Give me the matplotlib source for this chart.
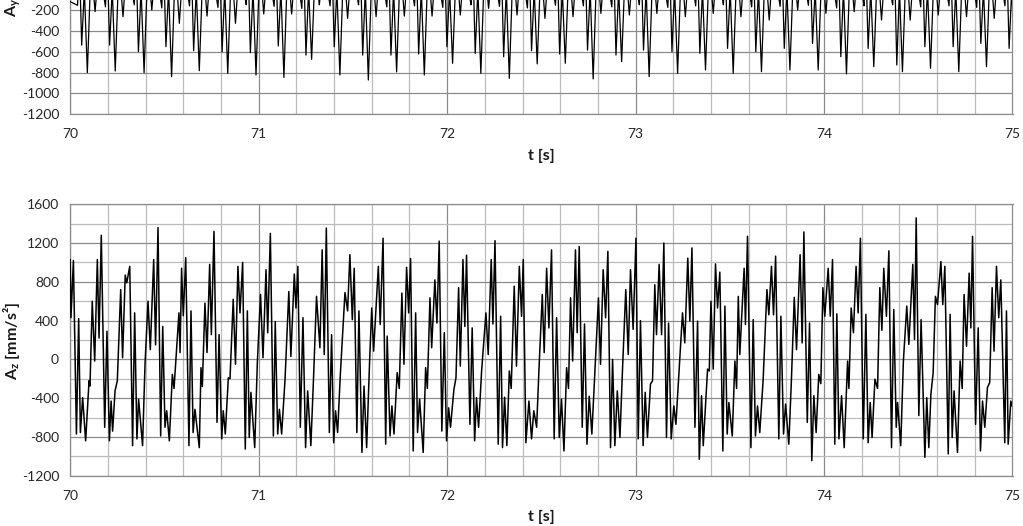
#---------------------------Librerias-------------------------------------------
import numpy as np
import matplotlib.pyplot as plt
from matplotlib.ticker import MultipleLocator
#------------------------------------------------------------------------------

plt.rcParams['font.family'] = ['Lato', 'DejaVu Sans']
plt.rcParams['axes.unicode_minus'] = False
plt.rcParams['mathtext.fontset'] = 'custom'
plt.rcParams['mathtext.rm'] = 'Lato'
plt.rcParams['mathtext.bf'] = 'Lato:bold'

#---------------------------Datos A_y (panel superior, recortado)---------------
ay_tb = [70.091, 70.239, 70.392, 70.538, 70.685, 70.836, 70.986, 71.134, 71.281, 71.431,
         71.582, 71.732, 71.879, 72.029, 72.179, 72.330, 72.478, 72.627, 72.775, 72.926,
         73.072, 73.223, 73.371, 73.518, 73.668, 73.819, 73.969, 74.119, 74.264, 74.416,
         74.565, 74.715, 74.862, 75.012]
ay_pre = [-155, -170, -150, -180, -160, -175, -150, -165, -185, -160,
          -150, -170, -160, -175, -150, -165, -180, -155, -160, -170,
          -150, -175, -160, -150, -170, -165, -155, -180, -160, -150,
          -170, -160, -175, -160]
ay_a = [-536, -536, -600, -552, -590, -600, -609, -545, -632, -552,
        -632, -632, -622, -552, -616, -648, -590, -622, -584, -632,
        -584, -600, -615, -568, -600, -568, -520, -648, -568, -727,
        -552, -552, -520, -568]
ay_b = [-801, -785, -801, -840, -782, -807, -823, -846, -673, -823,
        -871, -793, -823, -711, -807, -855, -717, -711, -861, -695,
        -839, -807, -775, -807, -791, -775, -775, -813, -743, -791,
        -759, -791, -743, -700]
ay_c = [-216, -264, -200, -328, -258, -328, -238, -238, -150, -280,
        -264, -258, -258, -248, -184, -248, -280, -264, -232, -248,
        -232, -264, -232, -264, -296, -200, -232, -216, -296, -296,
        -248, -264, -280, -250]
ay_dt = [-0.052, -0.042, -0.030, -0.016, 0.0, 0.020, 0.041, 0.062]  # forma del ciclo
ay_hi = 250   # crestas (fuera de la imagen)
ay_mid = 0
#------------------------------------------------------------------------------

#---------------------------Datos A_z (panel inferior)-------------------------
az_t = [70.000, 70.004, 70.017, 70.033, 70.045, 70.054, 70.066, 70.082, 70.100, 70.105,
        70.117, 70.130, 70.144, 70.153, 70.165, 70.183, 70.195, 70.208, 70.217, 70.225, 70.238, 70.250,
        70.268, 70.278, 70.292, 70.300, 70.316, 70.331, 70.342, 70.354, 70.363, 70.384, 70.397,
        70.413, 70.425, 70.443, 70.453, 70.466, 70.480, 70.491, 70.503, 70.512, 70.526, 70.542, 70.551,
        70.577, 70.583, 70.591, 70.600, 70.613, 70.630, 70.641, 70.652, 70.662, 70.685, 70.694, 70.701,
        70.715, 70.726, 70.740, 70.749, 70.763, 70.779, 70.790, 70.804, 70.812, 70.823, 70.839, 70.848,
        70.865, 70.877, 70.890, 70.901, 70.915, 70.929, 70.940, 70.950, 70.959, 70.979, 70.993,
        71.010, 71.023, 71.039, 71.048, 71.062, 71.078, 71.088, 71.101, 71.110, 71.122, 71.140,
        71.160, 71.171, 71.189, 71.198, 71.208, 71.221, 71.235, 71.249, 71.260, 71.277, 71.292,
        71.307, 71.325, 71.337, 71.348, 71.359, 71.375, 71.387, 71.398, 71.408, 71.419, 71.433,
        71.458, 71.472, 71.484, 71.497, 71.507, 71.521, 71.532, 71.548, 71.559, 71.573, 71.589,
        71.600, 71.610, 71.635, 71.645, 71.660, 71.674, 71.682, 71.697, 71.707, 71.718, 71.735, 71.746,
        71.760, 71.771, 71.785, 71.796, 71.806, 71.820, 71.833, 71.843, 71.854, 71.873, 71.886, 71.895,
        71.909, 71.918, 71.935, 71.946, 71.958, 71.972, 71.985, 71.997, 72.008, 72.018, 72.036, 72.047,
        72.061, 72.070, 72.084, 72.094, 72.103, 72.121, 72.133, 72.146, 72.156, 72.167, 72.183,
        72.206, 72.218, 72.234, 72.243, 72.254, 72.271, 72.284, 72.294, 72.305, 72.317, 72.330, 72.340,
        72.356, 72.368, 72.383, 72.395, 72.404, 72.418, 72.434, 72.448, 72.460, 72.475, 72.487,
        72.505, 72.515, 72.528, 72.540, 72.554, 72.568, 72.581, 72.595, 72.607, 72.620, 72.634, 72.644,
        72.655, 72.666, 72.681, 72.690, 72.701, 72.717, 72.729, 72.742, 72.754, 72.768, 72.784,
        72.803, 72.814, 72.828, 72.841, 72.853, 72.867, 72.878, 72.890, 72.903, 72.917, 72.931,
        72.948, 72.961, 72.973, 72.987, 73.002, 73.014, 73.026, 73.040, 73.051, 73.063, 73.079, 73.090,
        73.102, 73.111, 73.125, 73.138, 73.150, 73.164, 73.175, 73.189, 73.203, 73.214, 73.231,
        73.249, 73.261, 73.277, 73.288, 73.299, 73.315, 73.329, 73.338, 73.350, 73.359, 73.382, 73.391,
        73.400, 73.412, 73.424, 73.435, 73.447, 73.463, 73.474, 73.486, 73.495, 73.513, 73.527, 73.536,
        73.545, 73.553, 73.576, 73.583, 73.594, 73.612, 73.624, 73.636, 73.647, 73.659, 73.677,
        73.697, 73.707, 73.721, 73.732, 73.743, 73.760, 73.771, 73.785, 73.796, 73.813, 73.827,
        73.842, 73.854, 73.873, 73.884, 73.893, 73.911, 73.923, 73.935, 73.946, 73.958, 73.972, 73.983,
        73.994, 74.004, 74.022, 74.033, 74.045, 74.057, 74.068, 74.079, 74.093, 74.107, 74.125, 74.132,
        74.144, 74.156, 74.170, 74.181, 74.193, 74.208, 74.222, 74.234, 74.245, 74.255, 74.270, 74.284,
        74.296, 74.307, 74.317, 74.331, 74.344, 74.358, 74.370, 74.383, 74.390, 74.407, 74.421,
        74.439, 74.450, 74.471, 74.480, 74.489, 74.503, 74.515, 74.535, 74.545, 74.556, 74.567, 74.579,
        74.591, 74.602, 74.620, 74.630, 74.641, 74.659, 74.669, 74.680, 74.690, 74.708, 74.722, 74.733,
        74.743, 74.756, 74.770, 74.779, 74.788, 74.804, 74.818, 74.830, 74.841, 74.853, 74.867, 74.879,
        74.892, 74.902, 74.915, 74.927, 74.938, 74.959, 74.968, 74.977, 74.991, 74.998]
az_v = [1030, 430, 1020, -770, 420, -755, -395, -840, -220, -275,
        600, -17, 1030, 220, 1280, -700, 290, -840, -430, -740, -325, -220,
        720, 17, 870, 790, 960, -890, 480, -820, -410, -890, -50,
        600, 100, 1030, 150, 1360, -790, 340, -700, -530, -840, -155, -300,
        480, 70, 940, 450, 1050, -890, 500, -755, -515, -910, -85, -280,
        580, 70, 980, 255, 1320, -650, 255, -820, -530, -770, -190, -200,
        620, -50, 960, 480, 1000, -925, 500, -805, -340, -910, -35,
        670, 17, 925, 275, 1300, -790, 390, -770, -515, -770, -205,
        700, 30, 880, 530, 960, -700, 430, -910, -325, -890, -150,
        650, 120, 1130, 50, 1355, -755, 255, -860, -530, -755, -170,
        690, 500, 1080, 410, 940, -755, 500, -960, -275, -910, 0,
        530, 85, 960, 360, 1250, -875, 240, -790, -480, -770, -137, -300,
        685, -50, 950, 480, 1040, -945, 480, -755, -410, -960, -85, -300,
        635, 120, 820, 375, 1220, -740, 275, -840, -500, -700, -310, -190,
        740, -70, 1030, 340, 1075, -670, 325, -840, -395, -700, -120,
        480, 50, 1030, 365, 1225, -875, 445, -910, -390, -890, -120, -300,
        755, -70, 960, 445, 1030, -860, -430, -820, -530, -700, -120,
        670, 70, 940, 325, 1130, -820, 430, -805, -410, -945, -85, -300,
        635, -17, 1130, 275, 1165, -700, 365, -875, -380, -770, -120,
        635, -50, 925, 430, 1115, -910, 0, -890, -325, -805, -85,
        720, 50, 925, 310, 1250, -820, 400, -890, -340, -805, -255, -220,
        770, 255, 980, 255, 1200, -805, 375, -820, -480, -670, -120,
        480, 170, 1045, 395, 1150, -700, 395, -1030, -375, -890, -100, -120,
        600, -100, 985, 530, 900, -945, 550, -770, -445, -790, -17, -300,
        650, 50, 940, 360, 1270, -910, 410, -790, -480, -755, -205,
        720, 460, 960, 460, 1065, -820, 445, -770, -460, -875, -205,
        640, 100, 1080, 170, 1315, -650, 375, -1045, -375, -755, -155, -250,
        740, 445, 940, 445, 1030, -875, 470, -820, -375, -910, -17, -300,
        530, 275, 960, 480, 1250, -820, 465, -860, -445, -805, -205, -300,
        740, 300, 940, 445, 1120, -910, 515, -700, -445, -890, -17,
        550, 155, 980, 205, 1460, -580, 410, -1010, -395, -910, -360, -137,
        650, 565, 1010, 565, 960, -975, 465, -805, -325, -960, -17, -300,
        670, 135, 890, 325, 1270, -670, 325, -945, -430, -700, -290, -240,
        740, 85, 960, 430, 820, -860, 500, -875, -430, -480]
#------------------------------------------------------------------------------

#---------------------------Serie A_y a partir de los valles--------------------
ay_t = [70.0]
ay_v = [-120]
for tb, pre, a, b, c in zip(ay_tb, ay_pre, ay_a, ay_b, ay_c):
    vals = [pre, ay_hi, a, ay_mid, b, ay_hi, c, ay_hi]
    for dt, v in zip(ay_dt, vals):
        ay_t.append(tb + dt)
        ay_v.append(v)
#------------------------------------------------------------------------------

#---------------------------Grafica--------------------------------------------
W, H = 1023, 526
fig = plt.figure(figsize=(W / 100, H / 100), dpi=100)
ax1 = fig.add_axes([70.2 / W, 1 - 114.3 / H, 942.3 / W, 292.0 / H])
ax2 = fig.add_axes([70.2 / W, 1 - 475.7 / H, 942.3 / W, 271.4 / H])

ax1.plot(ay_t, ay_v, color='black', lw=0.9, zorder=3)
ax2.plot(az_t, az_v, color='black', lw=1.1, zorder=3)

ax1.set_ylim(-1200, 1600)
ax2.set_ylim(-1200, 1600)
ax1.set_yticks(range(-1200, -199, 200))   # lo de arriba queda fuera del recorte
ax2.yaxis.set_major_locator(MultipleLocator(400))
ax2.yaxis.set_minor_locator(MultipleLocator(200))

for ax in (ax1, ax2):
    ax.set_xlim(70, 75)
    ax.xaxis.set_major_locator(MultipleLocator(1))
    ax.xaxis.set_minor_locator(MultipleLocator(0.2))
    ax.grid(which='major', color='#8c8c8c', lw=0.9)
    ax.grid(which='minor', color='#bcbcbc', lw=0.9)
    ax.set_axisbelow(True)
    for s in ax.spines.values():
        s.set_color('#8c8c8c')
        s.set_linewidth(0.9)
    ax.tick_params(which='both', length=0, labelsize=10, colors='#262626')
    ax.tick_params(axis='y', pad=8)
    ax.tick_params(axis='x', pad=10)

lab = dict(fontsize=11.5, fontweight='bold', color='#1a1a1a')
fig.text(541.4 / W, 1 - 155.5 / H, 't [s]', ha='center', va='center', **lab)
fig.text(541.4 / W, 1 - 516.5 / H, 't [s]', ha='center', va='center', **lab)
fig.text(12 / W, 1 - 17 / H, r'A$_\mathbf{y}$ [mm/s²]', rotation=90,
         ha='center', va='bottom', **lab)
fig.text(12 / W, 1 - 341 / H, r'A$_\mathbf{z}$ [mm/s²]', rotation=90,
         ha='center', va='center', **lab)

plt.savefig('out.png', dpi=100)
#------------------------------------------------------------------------------
